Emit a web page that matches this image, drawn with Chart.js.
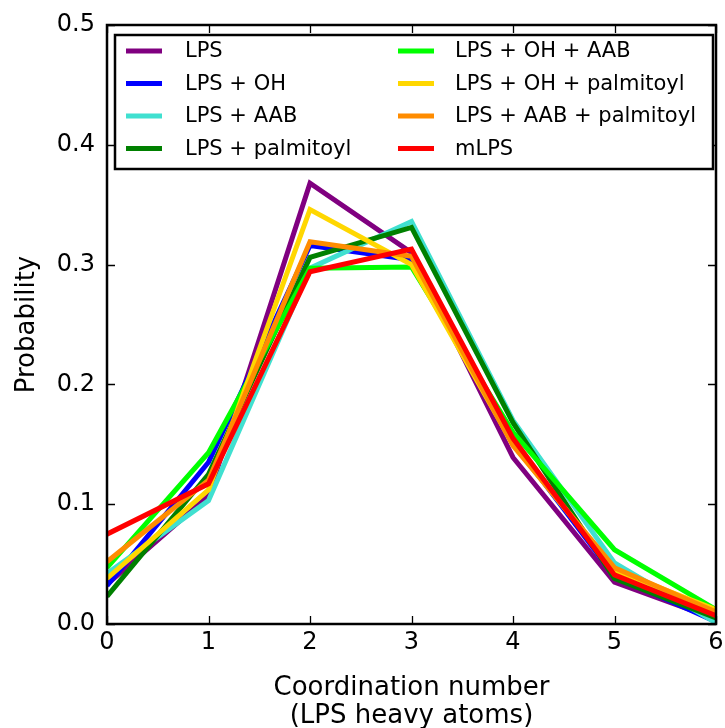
<!DOCTYPE html>
<html lang="en">
<head>
    <meta charset="UTF-8">
    <title>Coordination number distribution</title>
    <script src="https://cdn.jsdelivr.net/npm/chart.js@4.4.1/dist/chart.umd.min.js"></script>
    <style>
        html, body { margin: 0; padding: 0; background: #fff; }
        #wrap { width: 725px; height: 728px; }
    </style>
</head>
<body>
    <div id="wrap"><canvas id="myChart" width="725" height="728"></canvas></div>

    <script>
        // data
        const coordNumbers = [0, 1, 2, 3, 4, 5, 6];
        const seriesNames = ['LPS', 'LPS + OH', 'LPS + AAB', 'LPS + palmitoyl',
            'LPS + OH + AAB', 'LPS + OH + palmitoyl', 'LPS + AAB + palmitoyl', 'mLPS'];
        const lps          = [0.033, 0.107, 0.368, 0.310, 0.139, 0.035, 0.004];
        const lpsOH        = [0.032, 0.135, 0.316, 0.304, 0.152, 0.040, 0.002];
        const lpsAAB       = [0.042, 0.103, 0.297, 0.336, 0.170, 0.051, 0.001];
        const lpsPalm      = [0.023, 0.125, 0.306, 0.331, 0.168, 0.038, 0.005];
        const lpsOHAAB     = [0.047, 0.143, 0.297, 0.298, 0.160, 0.062, 0.012];
        const lpsOHPalm    = [0.038, 0.112, 0.346, 0.300, 0.150, 0.045, 0.012];
        const lpsAABPalm   = [0.052, 0.120, 0.319, 0.307, 0.149, 0.047, 0.010];
        const mlps         = [0.075, 0.117, 0.294, 0.313, 0.155, 0.041, 0.007];
        const yTicks = [0.0, 0.1, 0.2, 0.3, 0.4, 0.5];
        const xTicks = [0, 1, 2, 3, 4, 5, 6];

        const allSeries = [lps, lpsOH, lpsAAB, lpsPalm, lpsOHAAB, lpsOHPalm, lpsAABPalm, mlps];
        const colors = ['#800080', '#0000ff', '#40e0d0', '#008000', '#00ff00', '#ffd700', '#ff8c00', '#ff0000'];
        const FONT = "'DejaVu Sans', sans-serif";

        const datasets = allSeries.map((vals, i) => ({
            label: seriesNames[i],
            data: vals.map((v, j) => ({ x: coordNumbers[j], y: v })),
            borderColor: colors[i],
            backgroundColor: colors[i],
            borderWidth: 5,
            pointRadius: 0,
            tension: 0,
            fill: false,
            order: allSeries.length - i   // later series drawn on top
        }));

        // frame, inward ticks on all four sides, and the boxed legend
        const framePlugin = {
            id: 'frame',
            afterDatasetsDraw(chart) {
                const ctx = chart.ctx;
                const a = chart.chartArea;
                const xs = chart.scales.x, ys = chart.scales.y;
                ctx.save();
                ctx.strokeStyle = '#000';
                ctx.lineWidth = 1.3;
                const tl = 8;
                ctx.beginPath();
                xTicks.forEach(t => {
                    const px = Math.round(xs.getPixelForValue(t)) + 0.5;
                    ctx.moveTo(px, a.bottom); ctx.lineTo(px, a.bottom - tl);
                    ctx.moveTo(px, a.top); ctx.lineTo(px, a.top + tl);
                });
                yTicks.forEach(t => {
                    const py = Math.round(ys.getPixelForValue(t)) + 0.5;
                    ctx.moveTo(a.left, py); ctx.lineTo(a.left + tl, py);
                    ctx.moveTo(a.right, py); ctx.lineTo(a.right - tl, py);
                });
                ctx.stroke();
                ctx.lineWidth = 2.5;
                ctx.strokeRect(a.left, a.top, a.right - a.left, a.bottom - a.top);

                // legend box
                const lx = 115, ly = 35, lw = 598, lh = 134;
                ctx.fillStyle = '#fff';
                ctx.fillRect(lx, ly, lw, lh);
                ctx.lineWidth = 2.5;
                ctx.strokeRect(lx, ly, lw, lh);
                ctx.font = '21px ' + FONT;
                ctx.textBaseline = 'middle';
                ctx.textAlign = 'left';
                const rows = [51, 83.5, 116, 148.5];
                chart.data.datasets.forEach((ds, i) => {
                    const col = Math.floor(i / 4), row = i % 4;
                    const sx = col === 0 ? 126 : 398;
                    const y = rows[row];
                    ctx.strokeStyle = ds.borderColor;
                    ctx.lineWidth = 5;
                    ctx.beginPath();
                    ctx.moveTo(sx, y); ctx.lineTo(sx + 36, y);
                    ctx.stroke();
                    ctx.fillStyle = '#000';
                    ctx.fillText(ds.label, col === 0 ? 185 : 455, y + 1);
                });
                ctx.restore();
            }
        };

        new Chart(document.getElementById('myChart').getContext('2d'), {
            type: 'line',
            data: { datasets: datasets },
            options: {
                responsive: false,
                animation: false,
                events: [],
                layout: { padding: { top: 25, right: 9, bottom: 0, left: 0 } },
                plugins: { legend: { display: false }, tooltip: { enabled: false } },
                scales: {
                    x: {
                        type: 'linear',
                        min: 0, max: 6,
                        afterFit(scale) {
                            scale.height = 104;
                            scale.paddingLeft = 0;
                            scale.paddingRight = 0;
                        },
                        afterBuildTicks(scale) { scale.ticks = xTicks.map(v => ({ value: v })); },
                        grid: { display: false, drawTicks: false },
                        border: { display: false },
                        ticks: {
                            padding: 4,
                            color: '#000',
                            font: { family: FONT, size: 24 },
                            maxRotation: 0,
                            callback: v => String(v)
                        },
                        title: {
                            display: true,
                            text: ['Coordination number', '(LPS heavy atoms)'],
                            color: '#000',
                            font: { family: FONT, size: 26, lineHeight: 1.08 },
                            padding: { top: 0, bottom: -2 }
                        }
                    },
                    y: {
                        min: 0, max: 0.5,
                        afterFit(scale) {
                            scale.width = 107;
                            scale.paddingTop = 0;
                            scale.paddingBottom = 0;
                        },
                        afterBuildTicks(scale) { scale.ticks = yTicks.map(v => ({ value: v })); },
                        grid: { display: false, drawTicks: false },
                        border: { display: false },
                        ticks: {
                            padding: 12,
                            color: '#000',
                            font: { family: FONT, size: 24 },
                            callback: v => v.toFixed(1)
                        },
                        title: {
                            display: true,
                            text: 'Probability',
                            color: '#000',
                            font: { family: FONT, size: 26, lineHeight: 1.08 },
                            padding: { top: 13, bottom: 0 }
                        }
                    }
                }
            },
            plugins: [framePlugin]
        });
    </script>
</body>
</html>
